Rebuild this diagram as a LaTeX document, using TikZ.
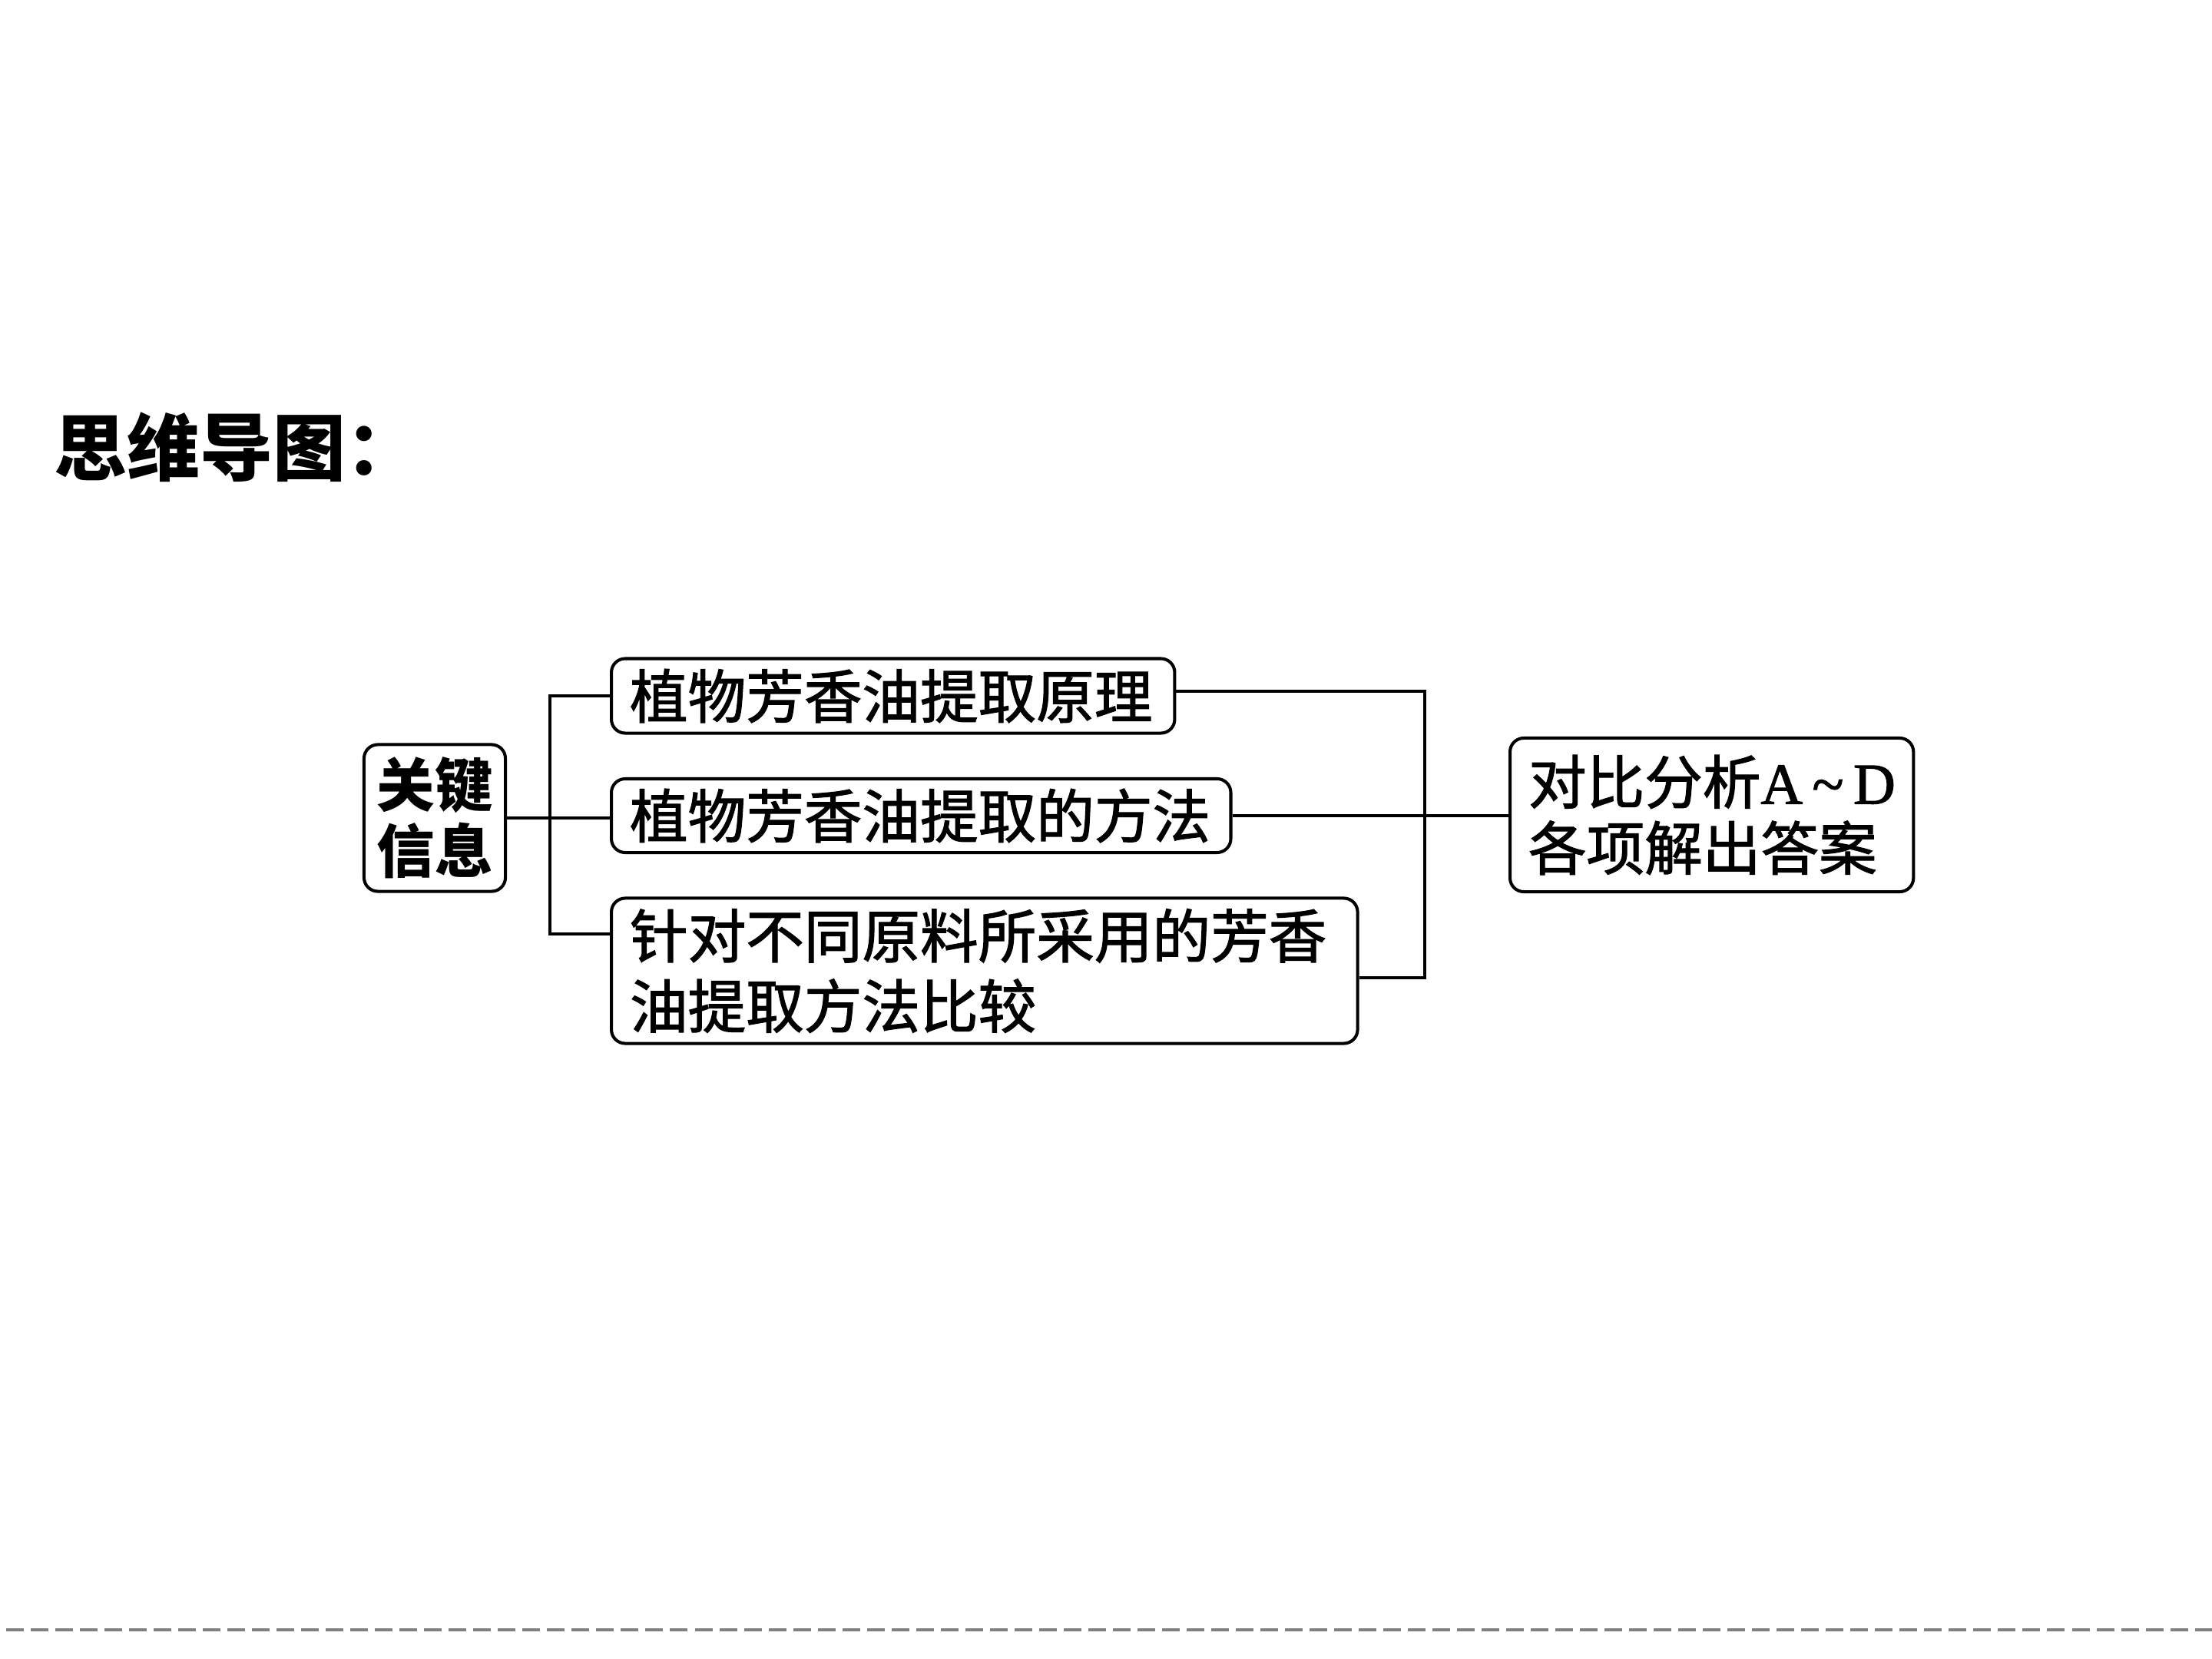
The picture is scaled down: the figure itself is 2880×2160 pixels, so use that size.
\documentclass[tikz,border=0pt]{standalone}
\usepackage{fontspec}
\setmainfont{Liberation Serif}
\newfontfamily\cjk{Noto Sans CJK SC}
\newfontfamily\cjkthick{Noto Sans CJK SC}[FakeBold=1.6]
\newfontfamily\latinthick{Liberation Serif}[FakeBold=1.6]
\usepackage{tikz}
\usetikzlibrary{calc}

\tikzset{
    box/.style={draw, line width=1.15pt, rounded corners=0.18cm, inner xsep=0.24cm, inner ysep=0pt,
        font=\cjkthick\fontsize{21.5}{25}\selectfont},
    leftbox/.style={box, anchor=west, align=left},
    link/.style={line width=1.05pt}
}

\begin{document}
\begin{tikzpicture}[x=0.01cm, y=-0.01cm]
        \useasboundingbox (0,0) rectangle (2880,2160);

        % Title
        \node[anchor=west, font=\cjk\bfseries\fontsize{27}{30}\selectfont] (title) at (58,582) {思维导图：};

        % Boxes
        \node[box, align=center, font=\cjk\bfseries\fontsize{21.5}{24.5}\selectfont,
              inner xsep=0pt, minimum width=1.84cm, minimum height=1.91cm] (key) at (566,1065) {关键\\信息};
        \node[leftbox, text width=6.85cm, minimum height=0.97cm] (b1) at (794,906) {植物芳香油提取原理};
        \node[leftbox, text width=7.58cm, minimum height=0.96cm] (b2) at (794,1062) {植物芳香油提取的方法};
        \node[leftbox, text width=9.23cm, minimum height=1.89cm,
              font=\cjkthick\fontsize{21.5}{26}\selectfont] (b3) at (794,1264) {针对不同原料所采用的芳香\\油提取方法比较};
        \node[leftbox, text width=4.77cm, minimum height=2.00cm,
              font=\cjkthick\fontsize{21.5}{24.5}\selectfont] (ans) at (1964,1061) {对比分析{\latinthick A\,\char"7E\,D}\\各项解出答案};

        % Define coordinates
        \coordinate (lx) at (716,1216);
        \coordinate (rx) at (1855,900);
        \coordinate (ry) at (1855,1273);

        % Left bracket
        \draw[link] (key.east) -- (key.east -| b2.west);
        \draw[link] (b1.west) -- (b1.west -| lx) -- (lx) -- (lx -| b3.west);

        % Right bracket
        \draw[link] (rx -| b1.east) -- (rx) -- (ry) -- (ry -| b3.east);
        \draw[link] (b2.east) -- (b2.east -| ans.west);

        % Bottom rule
        \draw[gray, line width=0.95pt, dash pattern=on 0.23cm off 0.09cm] (8,2122) -- (2880,2122);
    \end{tikzpicture}
\end{document}
